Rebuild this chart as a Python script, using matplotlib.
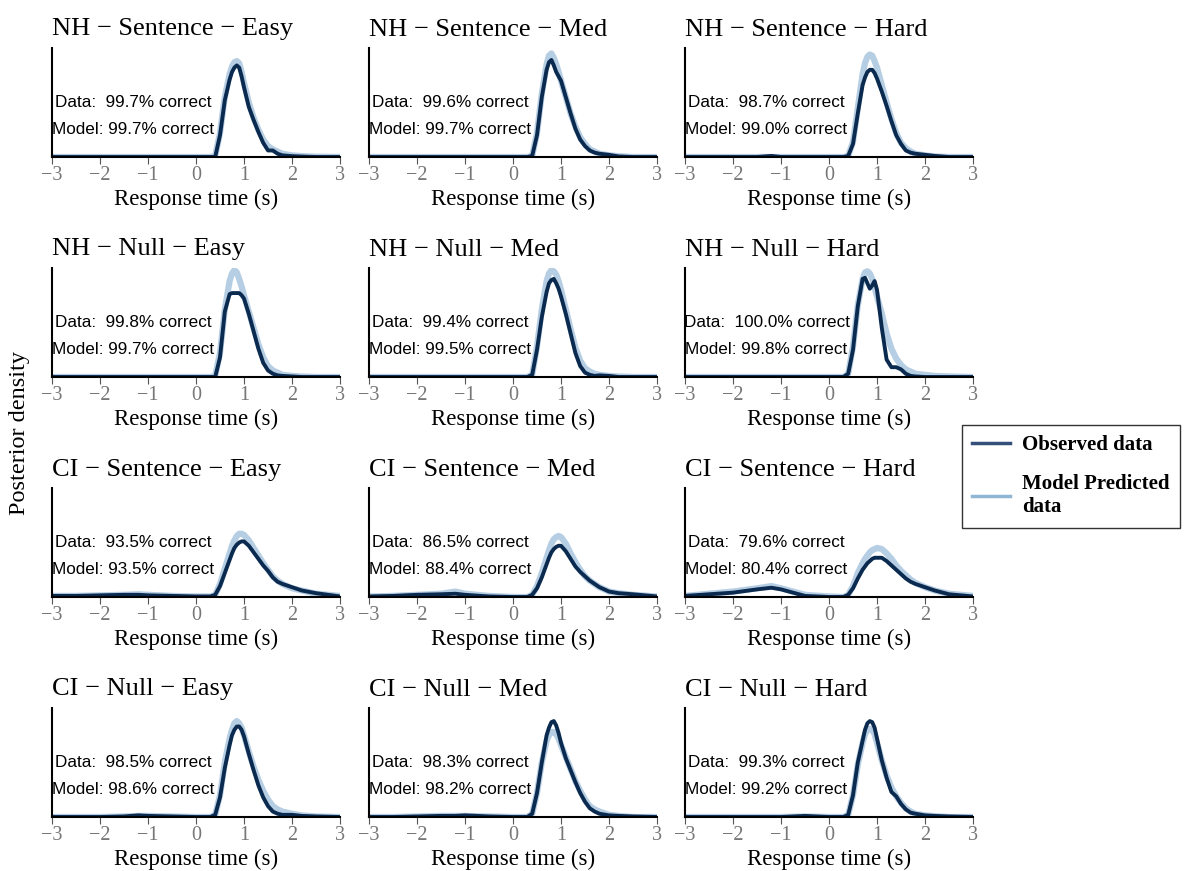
import matplotlib.pyplot as plt
import numpy as np

# response time grid (s) used for reading the curves off the figure
rt = [-3.0, -2.5, -2.0, -1.5, -1.2, -1.0, -0.5, 0.0, 0.3, 0.4, 0.5, 0.6, 0.7, 0.75,
      0.8, 0.85, 0.9, 0.95, 1.0, 1.1, 1.2, 1.3, 1.4, 1.5, 1.6, 1.7, 1.8, 2.0, 2.2, 2.5, 3.0]

titles = ["NH \u2212 Sentence \u2212 Easy", "NH \u2212 Sentence \u2212 Med", "NH \u2212 Sentence \u2212 Hard",
          "NH \u2212 Null \u2212 Easy", "NH \u2212 Null \u2212 Med", "NH \u2212 Null \u2212 Hard",
          "CI \u2212 Sentence \u2212 Easy", "CI \u2212 Sentence \u2212 Med", "CI \u2212 Sentence \u2212 Hard",
          "CI \u2212 Null \u2212 Easy", "CI \u2212 Null \u2212 Med", "CI \u2212 Null \u2212 Hard"]

data_pct = ["99.7", "99.6", "98.7", "99.8", "99.4", "100.0",
            "93.5", "86.5", "79.6", "98.5", "98.3", "99.3"]
model_pct = ["99.7", "99.7", "99.0", "99.7", "99.5", "99.8",
             "93.5", "88.4", "80.4", "98.6", "98.2", "99.2"]

# observed densities (relative height), one list per panel
obs = [
    [0, 0, 0, 0, 0, 0, 0, 0, 0, 0.0, 0.2, 0.52, 0.71, 0.78, 0.82, 0.84, 0.82, 0.74, 0.64, 0.46, 0.34, 0.23, 0.13, 0.06, 0.06, 0.03, 0.015, 0.008, 0.004, 0, 0],
    [0, 0, 0, 0, 0, 0, 0, 0, 0, 0.01, 0.2, 0.55, 0.8, 0.87, 0.89, 0.84, 0.78, 0.74, 0.7, 0.55, 0.4, 0.26, 0.16, 0.1, 0.06, 0.04, 0.03, 0.02, 0.005, 0, 0],
    [0, 0, 0, 0, 0.01, 0, 0, 0, 0, 0.01, 0.12, 0.4, 0.66, 0.73, 0.78, 0.8, 0.8, 0.77, 0.72, 0.6, 0.47, 0.33, 0.2, 0.12, 0.06, 0.04, 0.03, 0.02, 0.01, 0, 0],
    [0, 0, 0, 0, 0, 0, 0, 0, 0, 0.0, 0.18, 0.6, 0.76, 0.77, 0.77, 0.77, 0.77, 0.75, 0.72, 0.58, 0.42, 0.26, 0.13, 0.06, 0.03, 0.015, 0.01, 0.005, 0, 0, 0],
    [0, 0, 0, 0, 0, 0, 0, 0, 0, 0.02, 0.25, 0.55, 0.78, 0.86, 0.89, 0.9, 0.86, 0.81, 0.74, 0.58, 0.4, 0.22, 0.1, 0.04, 0.02, 0.01, 0.015, 0.01, 0, 0, 0],
    [0, 0, 0, 0, 0, 0, 0, 0, 0, 0.03, 0.25, 0.65, 0.9, 0.91, 0.86, 0.81, 0.84, 0.88, 0.8, 0.45, 0.16, 0.09, 0.09, 0.07, 0.03, 0.01, 0.005, 0, 0, 0, 0],
    [0.01, 0.01, 0.015, 0.02, 0.02, 0.015, 0.01, 0.005, 0.005, 0.02, 0.1, 0.22, 0.34, 0.4, 0.45, 0.48, 0.5, 0.51, 0.51, 0.47, 0.41, 0.35, 0.29, 0.24, 0.18, 0.14, 0.12, 0.09, 0.06, 0.035, 0.005],
    [0.005, 0.01, 0.02, 0.025, 0.03, 0.02, 0.005, 0, 0, 0.02, 0.08, 0.18, 0.3, 0.36, 0.41, 0.44, 0.46, 0.47, 0.47, 0.42, 0.35, 0.28, 0.23, 0.19, 0.15, 0.12, 0.09, 0.05, 0.035, 0.025, 0.005],
    [0.01, 0.025, 0.04, 0.07, 0.085, 0.07, 0.01, 0, 0, 0.02, 0.08, 0.17, 0.25, 0.28, 0.31, 0.33, 0.35, 0.36, 0.36, 0.36, 0.33, 0.29, 0.25, 0.21, 0.17, 0.14, 0.12, 0.09, 0.06, 0.025, 0.005],
    [0, 0, 0, 0.005, 0.015, 0.01, 0.005, 0, 0, 0.02, 0.18, 0.45, 0.66, 0.75, 0.8, 0.83, 0.83, 0.8, 0.74, 0.58, 0.43, 0.29, 0.18, 0.1, 0.05, 0.03, 0.02, 0.02, 0.01, 0.005, 0],
    [0, 0, 0.005, 0.01, 0.01, 0.015, 0.005, 0, 0, 0.03, 0.22, 0.5, 0.75, 0.82, 0.87, 0.88, 0.84, 0.77, 0.68, 0.54, 0.43, 0.32, 0.22, 0.14, 0.08, 0.05, 0.03, 0.015, 0.01, 0.005, 0],
    [0, 0, 0, 0, 0, 0, 0.01, 0, 0, 0.02, 0.2, 0.5, 0.7, 0.8, 0.86, 0.88, 0.87, 0.82, 0.72, 0.52, 0.36, 0.23, 0.19, 0.12, 0.07, 0.04, 0.03, 0.015, 0.01, 0.005, 0],
]

# model predicted densities (relative height), one list per panel
model = [
    [0, 0, 0, 0, 0, 0, 0, 0, 0, 0.01, 0.22, 0.55, 0.76, 0.83, 0.87, 0.88, 0.86, 0.78, 0.68, 0.5, 0.36, 0.25, 0.16, 0.1, 0.07, 0.05, 0.03, 0.015, 0.008, 0.003, 0],
    [0, 0, 0, 0, 0, 0, 0, 0, 0, 0.01, 0.22, 0.58, 0.85, 0.93, 0.95, 0.91, 0.85, 0.78, 0.7, 0.55, 0.4, 0.28, 0.18, 0.12, 0.07, 0.05, 0.03, 0.015, 0.008, 0, 0],
    [0, 0, 0, 0, 0, 0, 0, 0, 0, 0.01, 0.14, 0.45, 0.76, 0.86, 0.92, 0.94, 0.93, 0.88, 0.82, 0.66, 0.5, 0.35, 0.22, 0.13, 0.08, 0.05, 0.03, 0.015, 0.005, 0, 0],
    [0, 0, 0, 0, 0, 0, 0, 0, 0, 0.01, 0.22, 0.62, 0.88, 0.95, 0.98, 0.96, 0.9, 0.83, 0.75, 0.6, 0.45, 0.3, 0.18, 0.1, 0.06, 0.04, 0.02, 0.01, 0.005, 0, 0],
    [0, 0, 0, 0, 0, 0, 0, 0, 0, 0.02, 0.28, 0.62, 0.88, 0.95, 0.98, 0.97, 0.94, 0.88, 0.8, 0.62, 0.44, 0.27, 0.15, 0.08, 0.05, 0.03, 0.02, 0.01, 0.005, 0, 0],
    [0, 0, 0, 0, 0, 0, 0, 0, 0, 0.03, 0.28, 0.66, 0.9, 0.96, 0.97, 0.95, 0.9, 0.82, 0.74, 0.58, 0.4, 0.26, 0.17, 0.11, 0.07, 0.05, 0.03, 0.02, 0.01, 0.005, 0],
    [0.01, 0.01, 0.015, 0.02, 0.025, 0.02, 0.01, 0.005, 0.005, 0.02, 0.12, 0.26, 0.4, 0.47, 0.52, 0.56, 0.58, 0.58, 0.57, 0.52, 0.45, 0.38, 0.31, 0.25, 0.19, 0.15, 0.12, 0.08, 0.06, 0.03, 0.01],
    [0.005, 0.01, 0.02, 0.03, 0.05, 0.03, 0.01, 0, 0, 0.02, 0.1, 0.22, 0.36, 0.43, 0.49, 0.53, 0.55, 0.56, 0.55, 0.49, 0.4, 0.32, 0.25, 0.19, 0.15, 0.12, 0.09, 0.05, 0.035, 0.02, 0.005],
    [0.01, 0.03, 0.05, 0.08, 0.1, 0.08, 0.02, 0.005, 0, 0.02, 0.1, 0.22, 0.31, 0.35, 0.38, 0.41, 0.43, 0.44, 0.45, 0.44, 0.4, 0.35, 0.29, 0.24, 0.2, 0.16, 0.13, 0.09, 0.06, 0.03, 0.01],
    [0, 0, 0, 0.005, 0.01, 0.01, 0.005, 0, 0, 0.02, 0.2, 0.5, 0.72, 0.8, 0.86, 0.88, 0.86, 0.82, 0.75, 0.6, 0.46, 0.34, 0.24, 0.16, 0.1, 0.07, 0.05, 0.03, 0.015, 0.005, 0],
    [0, 0, 0.005, 0.01, 0.01, 0.01, 0.005, 0, 0, 0.03, 0.22, 0.5, 0.7, 0.75, 0.78, 0.78, 0.76, 0.72, 0.66, 0.55, 0.44, 0.33, 0.24, 0.16, 0.1, 0.07, 0.05, 0.02, 0.01, 0, 0],
    [0, 0, 0, 0, 0, 0, 0.005, 0, 0, 0.02, 0.2, 0.48, 0.68, 0.76, 0.8, 0.81, 0.8, 0.76, 0.68, 0.52, 0.38, 0.27, 0.19, 0.13, 0.08, 0.05, 0.03, 0.015, 0.008, 0, 0],
]

obs_color = '#0b2a4f'
model_color = '#aac6de'

fig = plt.figure(figsize=(11.96, 8.71), dpi=100)

lefts = [52, 369, 685]
tops = [48, 268, 488, 708]
W, H = 1196.0, 871.0

for i in range(12):
    r, c = divmod(i, 3)
    ax = fig.add_axes([lefts[c] / W, 1 - (tops[r] + 109) / H, 288 / W, 109 / H])
    ax.plot(rt, model[i], color=model_color, linewidth=4.5, alpha=0.85, solid_joinstyle='round')
    ax.plot(rt, obs[i], color=obs_color, linewidth=2.8, solid_joinstyle='round')
    ax.set_xlim(-3, 3)
    ax.set_ylim(0, 1)
    ax.set_yticks([])
    ax.set_xticks([-3, -2, -1, 0, 1, 2, 3])
    ax.set_xticklabels(["\u22123", "\u22122", "\u22121", "0", "1", "2", "3"],
                       fontfamily='Liberation Serif', fontsize=14.5, color='#777777')
    ax.tick_params(axis='x', length=5, color='#555555', pad=1.5)
    for s in ['top', 'right']:
        ax.spines[s].set_visible(False)
    ax.spines['left'].set_linewidth(1.5)
    ax.spines['bottom'].set_linewidth(1.5)
    ax.set_title(titles[i], loc='left', fontfamily='Liberation Serif', fontsize=19, pad=9, x=0.0)
    ax.set_xlabel("Response time (s)", fontfamily='Liberation Serif', fontsize=16.5, labelpad=3)
    ax.text(0.283, 0.5, "Data:  " + data_pct[i] + "% correct", transform=ax.transAxes,
            ha='center', va='center', fontfamily='Liberation Sans', fontsize=12.3)
    ax.text(0.283, 0.25, "Model: " + model_pct[i] + "% correct", transform=ax.transAxes,
            ha='center', va='center', fontfamily='Liberation Sans', fontsize=12.3)

fig.text(20 / W, 1 - 433 / H, "Posterior density", rotation=90, ha='center', va='center',
         fontfamily='Liberation Serif', fontsize=17.5)

h1, = plt.plot([], [], color='#34507a', linewidth=2.5, label='Observed data')
h2, = plt.plot([], [], color='#8fb6d4', linewidth=2.5, label='Model Predicted\ndata')
fig.legend(handles=[h1, h2], loc='upper left', bbox_to_anchor=(962 / W, 1 - 425 / H),
           borderaxespad=0, frameon=True, fancybox=False, edgecolor='#333333', framealpha=1,
           prop={'family': 'Liberation Serif', 'weight': 'bold', 'size': 15},
           handlelength=1.8, borderpad=0.5, labelspacing=0.9, handletextpad=0.6)

fig.savefig('out.png', dpi=100)
